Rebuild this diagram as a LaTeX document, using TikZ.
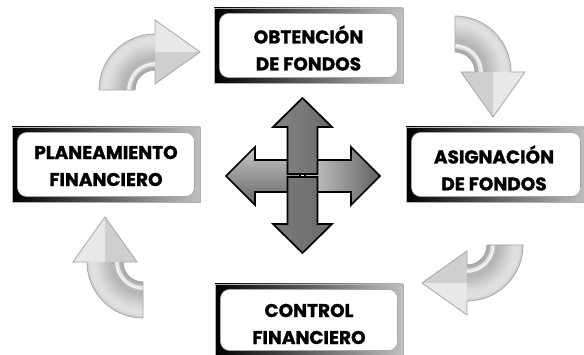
\documentclass[tikz,border=0pt]{standalone}
\usepackage{fontspec}
\setmainfont{Poppins}[BoldFeatures={FakeBold=1.2}]
\begin{document}
\begin{tikzpicture}[x=1pt,y=1pt]
\tikzset{
  boxframe/.style n args={2}{draw=gray!60, line width=0.5pt,
    left color=black, right color=gray!50,
    minimum width=#1, minimum height=#2, inner sep=0pt,
    path picture={\fill[white,draw=gray!70,line width=0.6pt,rounded corners=9pt]
      ([xshift=5.5pt,yshift=-5.5pt]path picture bounding box.north west) rectangle
      ([xshift=-5.5pt,yshift=5.5pt]path picture bounding box.south east);}},
  boxtext/.style={font=\bfseries\fontsize{18.5}{27}\selectfont, align=center, inner sep=0pt},
  crossedge/.style={draw=black, line width=1.7pt, line join=miter},
  curvearrow/.pic={
    \begin{scope}
      \clip (-56,0) arc[start angle=180,end angle=90,radius=56] -- (0,70) -- (45,38) -- (0,6) -- (0,20)
        arc[start angle=90,end angle=180,radius=20] -- cycle;
      \fill[gray!18] (-60,-5) rectangle (50,75);
      \fill[gray!38] (0,38) -- (45,38) -- (0,4) -- cycle;
      \foreach \r/\c in {21/68,23/60,25/22,27/10,29/55,31/58,33/55,35/50,37/46,39/42,41/38,43/34,45/30,47/27,49/25,51/24,53/27,55/35}
        \draw[gray!\c, line width=2.3pt] (-\r,0) arc[start angle=180,end angle=90,radius=\r];
    \end{scope}
    \draw[gray!70, line width=0.8pt, line join=miter] (-56,0) arc[start angle=180,end angle=90,radius=56] -- (0,70) -- (45,38) -- (0,6) -- (0,20)
        arc[start angle=90,end angle=180,radius=20] -- cycle;
  }
}
\fill[white] (0,0) rectangle (584,355);
\useasboundingbox (0,0) rectangle (584,355);

% boxes
\node[boxframe={189pt}{75pt}] (obt) at (308.5,309.5) {};
\node[boxframe={188pt}{75pt}] (plan) at (106,190.5) {};
\node[boxframe={180pt}{75pt}] (asig) at (496,190.5) {};
\node[boxframe={188pt}{72pt}] (ctrl) at (309,35) {};

\node[boxtext] (obtt) at (308.5,307) {OBTENCIÓN\\DE FONDOS};
\node[boxtext] (plant) at (106,189) {PLANEAMIENTO\\FINANCIERO};
\node[boxtext] (asigt) at (494,187) {ASIGNACIÓN\\DE FONDOS};
\node[boxtext] (ctrlt) at (309,31) {CONTROL\\FINANCIERO};

% curved arrows
\pic at (155,265) {curvearrow};
\pic[rotate=-90] at (455,283) {curvearrow};
\pic[rotate=180] at (467,110) {curvearrow};
\pic[rotate=90] at (143,93) {curvearrow};

% central cross
\coordinate (cc) at (302,179);
\path[crossedge, top color=black!22, bottom color=black!60]
  (300,163) -- (255,163) -- (255,150) -- (226,179) -- (255,208) -- (255,195) -- (300,195) -- cycle;
\path[crossedge, left color=black!20, right color=black!62]
  (305,163) -- (351,163) -- (351,150) -- (380,179) -- (351,208) -- (351,195) -- (305,195) -- cycle;
\path[crossedge, left color=black!48, middle color=black!18, right color=black!58]
  (287.5,181) -- (287.5,228) -- (273,228) -- (302.5,257) -- (332,228) -- (317.5,228) -- (317.5,181) -- cycle;
\path[crossedge, left color=black!52, middle color=black!20, right color=black!58]
  (287.5,178) -- (287.5,131) -- (273,131) -- (302.5,102) -- (332,131) -- (317.5,131) -- (317.5,178) -- cycle;
\end{tikzpicture}
\end{document}
